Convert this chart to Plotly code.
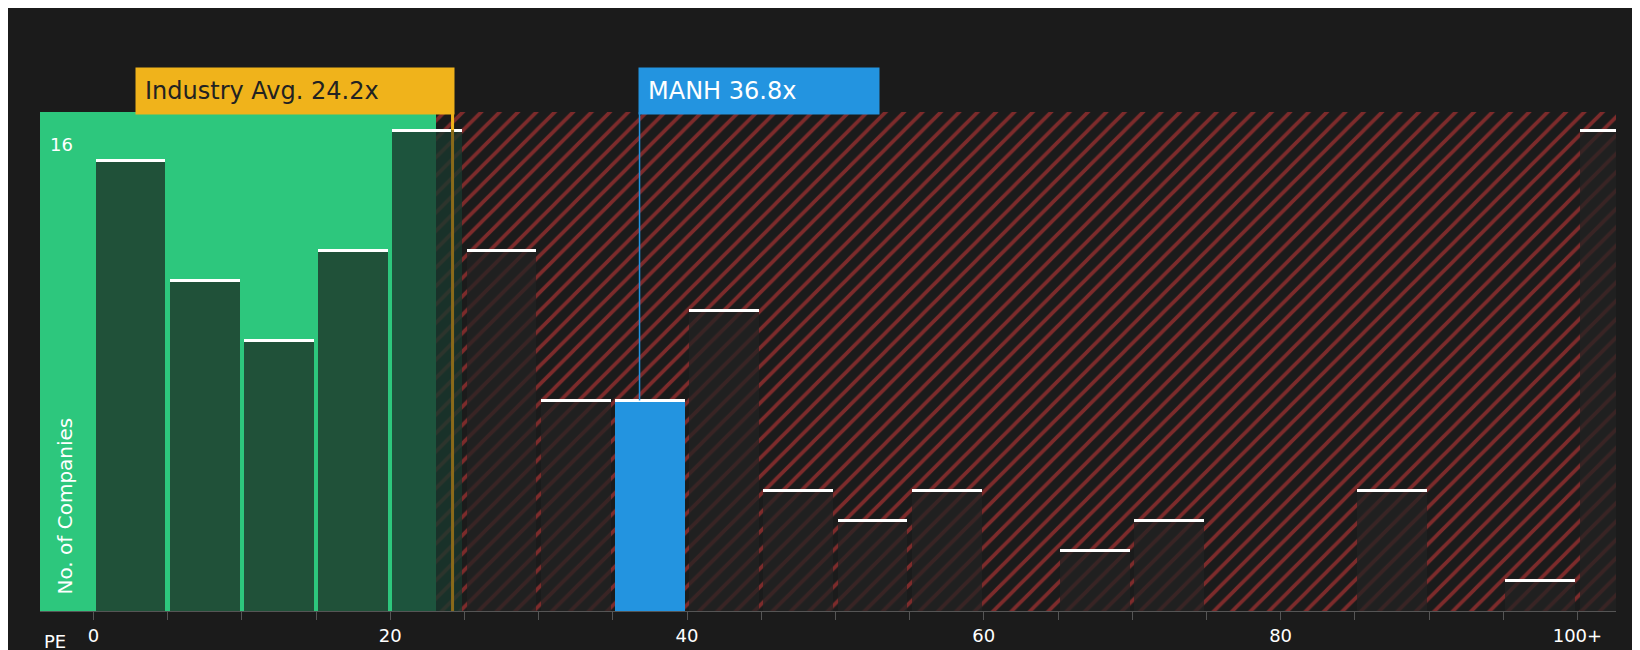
import plotly.graph_objects as go

bin_left = [0, 5, 10, 15, 20, 25, 30, 35, 40, 45, 50, 55, 60, 65, 70, 75, 80, 85, 90, 95, 100]
counts = [15, 11, 9, 12, 16, 12, 7, 7, 10, 4, 3, 4, 0, 2, 3, 0, 0, 4, 0, 1, 16]
tick_vals = [0, 20, 40, 60, 80, 100]
tick_text = ["0", "20", "40", "60", "80", "100+"]
industry_avg = 24.2
manh = 36.8
manh_bin = 35
green_end = 23.1
x_min, x_max = -3.6, 102.6
y_max = 16.6

centers, widths, colors = [], [], []
for b in bin_left:
    w = 2.5 if b == 100 else 4.7
    centers.append(b + 0.15 + w / 2)
    widths.append(w)
    colors.append("#2394e0" if b == manh_bin else ("rgba(30,60,45,0.85)" if b < 20 else "rgba(35,35,35,0.75)"))
colors[4] = "rgba(25,55,45,0.8)"

fig = go.Figure()
fig.add_trace(go.Bar(x=[(x_min + green_end) / 2], y=[y_max], width=[green_end - x_min],
                     marker=dict(color="#2dc77d", line_width=0), hoverinfo="skip", showlegend=False))
fig.add_trace(go.Bar(x=[(green_end + x_max) / 2], y=[y_max], width=[x_max - green_end],
                     marker=dict(color="#1b1b1b", line_width=0,
                                 pattern=dict(shape="/", fgcolor="#e03c3c", bgcolor="#1b1b1b", size=13, solidity=0.28)),
                     hoverinfo="skip", showlegend=False))
fig.add_trace(go.Bar(x=centers, y=counts, width=widths, marker=dict(color=colors, line_width=0),
                     showlegend=False))
fig.add_trace(go.Bar(x=[c for c, v in zip(centers, counts) if v > 0],
                     y=[0.1] * sum(1 for v in counts if v > 0),
                     base=[v - 0.05 for v in counts if v > 0],
                     width=[w for w, v in zip(widths, counts) if v > 0],
                     marker=dict(color="white", line_width=0), showlegend=False))

fig.add_shape(type="line", x0=industry_avg, x1=industry_avg, y0=0, y1=y_max, line=dict(color="#8a6a1a", width=3))
fig.add_shape(type="line", x0=industry_avg, x1=industry_avg, y0=16, y1=y_max, line=dict(color="#f0b31b", width=3))
fig.add_shape(type="line", x0=manh, x1=manh, y0=7, y1=y_max, line=dict(color="#2394e0", width=1.5))

fig.add_annotation(x=industry_avg, y=1.09, xref="x", yref="paper", text="Industry Avg. 24.2x", showarrow=False,
                   bgcolor="#f0b31b", font=dict(color="#222", size=24, family="DejaVu Sans"),
                   borderpad=9, xanchor="right", xshift=2, width=300, align="left")
fig.add_annotation(x=manh, y=1.09, xref="x", yref="paper", text="MANH 36.8x", showarrow=False,
                   bgcolor="#2394e0", font=dict(color="white", size=24, family="DejaVu Sans"),
                   borderpad=9, xanchor="left", xshift=-2, width=222, align="left")
fig.add_annotation(x=x_min, y=16, xref="x", yref="y", text="16", showarrow=False, xanchor="left", xshift=8,
                   yshift=-14, font=dict(color="white", size=18))
fig.add_annotation(x=x_min, y=0, xref="x", yref="y", text="No. of Companies", showarrow=False, textangle=-90,
                   xanchor="left", yanchor="bottom", xshift=10, yshift=14, font=dict(color="white", size=20))
fig.add_annotation(x=x_min, y=0, xref="x", yref="y", text="PE", showarrow=False, xanchor="left", yanchor="top",
                   xshift=2, yshift=-18, font=dict(color="white", size=18))

fig.update_layout(
    width=1640, height=650, paper_bgcolor="#1b1b1b", plot_bgcolor="#1b1b1b",
    margin=dict(l=32, r=32, t=104, b=42), barmode="overlay", bargap=0,
    font=dict(family="DejaVu Sans", color="white"),
    xaxis=dict(range=[x_min, x_max], tickvals=tick_vals, ticktext=tick_text, tickfont=dict(size=18, color="white"),
               showgrid=False, zeroline=False, ticks="outside", ticklen=8, tickcolor="#555",
               showline=True, linecolor="#555",
               minor=dict(dtick=5, tick0=0, ticks="outside", ticklen=8, tickcolor="#555")),
    yaxis=dict(range=[0, y_max], tickvals=[0, 4, 8, 12, 16], showticklabels=False,
               gridcolor="rgba(255,255,255,0.12)", zeroline=False),
)
fig.write_html("out.html", config={"responsive": False})
